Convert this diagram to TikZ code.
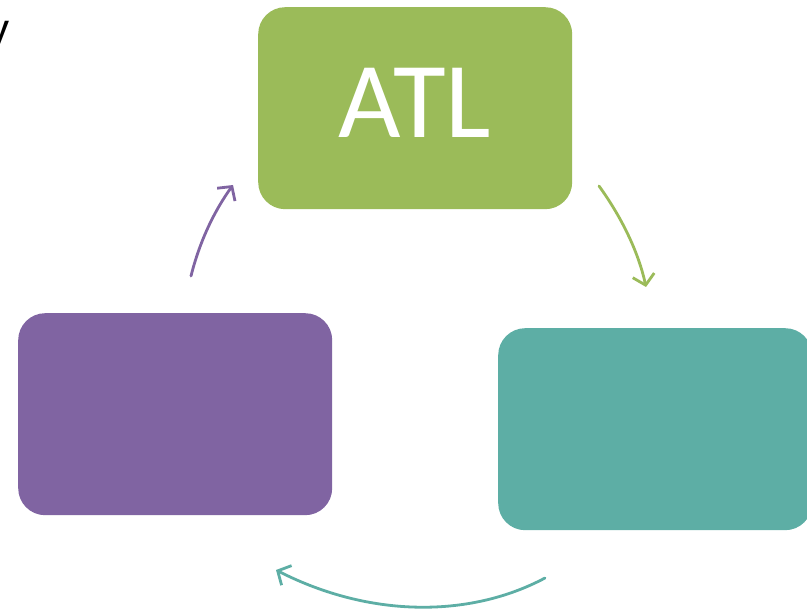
\documentclass[tikz,border=0pt]{standalone}
\usepackage{fontspec}
\setmainfont{Carlito}
\newfontfamily\arialf{Liberation Sans}
\usetikzlibrary{arrows.meta}
\definecolor{cgreen}{HTML}{9BBB59}
\definecolor{cpurple}{HTML}{8064A2}
\definecolor{cteal}{HTML}{5DAEA5}
\begin{document}
\begin{tikzpicture}[x=1pt,y=-1pt,
  box/.style={rounded corners=27pt, inner sep=0pt, minimum width=314pt, minimum height=202pt, draw=none},
  arr/.style={line width=2.8pt, line cap=round, -{Straight Barb[length=10pt,width=22pt,line width=2.8pt]}}]
\useasboundingbox (0,0) rectangle (807,612);
\node[box, fill=cgreen, anchor=north west] (atl) at (258,7) {};
\node[text=white, font=\fontsize{108}{112}\selectfont, anchor=base] (atltext) at (415,138) {ATL};
\node[box, fill=cpurple, anchor=north west] (left) at (18,313) {};
\node[box, fill=cteal, anchor=north west] (right) at (498,328) {};
\node[font=\arialf\fontsize{44}{50}\selectfont, anchor=base east, inner sep=0pt] (ycut) at (10,45) {y};
\coordinate (p1) at (191,276);
\coordinate (p2) at (233,185);
\coordinate (g1) at (599,186);
\coordinate (g2) at (646,287);
\coordinate (t1) at (545,578);
\coordinate (t2) at (276,570);
\draw[arr, cpurple] (p1) .. controls (200,240) and (215,210) .. (p2);
\draw[arr, cgreen] (g1) .. controls (620,215) and (638,250) .. (g2);
\draw[arr, cteal] (t1) .. controls (470,618) and (370,618) .. (t2);
\end{tikzpicture}
\end{document}
